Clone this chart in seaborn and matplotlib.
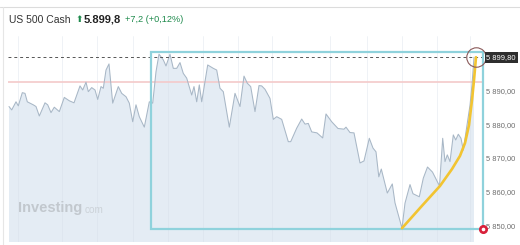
import numpy as np
import pandas as pd
import matplotlib
matplotlib.use("Agg")
import matplotlib.pyplot as plt
import seaborn as sns
from matplotlib.patches import Rectangle
from matplotlib.lines import Line2D

# ---------------- data ----------------
t = [9, 11.7, 16, 18.3, 22.3, 25, 27.3, 33.3, 36, 39.3, 45, 47.7, 51, 54.3, 59.3,
     64.3, 69.3, 74, 80, 82.7, 86, 88.3, 91.7, 95, 97.7, 101, 103.3, 106, 109, 112.7,
     118.3, 121.7, 126, 129.3, 132.7, 136, 139.3, 144.3, 149.3, 152.7, 156, 159, 163.3,
     166, 170, 173.3, 176.7, 180, 183.3, 186.7, 191.7, 194, 196.7, 199.3, 201.7, 207.7,
     213.3, 216.7, 220, 223.3, 229.3, 235, 240, 244, 247.3, 250.7, 255, 259, 261.7, 265,
     270, 273.3, 276.7, 281.7, 288.3, 290.7, 296.7, 301.7, 305, 308.3, 311.7, 317, 322.7,
     326, 331.7, 338, 344, 346, 350, 354, 360, 364, 369.3, 373, 376, 378.8, 381.3, 387.3,
     392.3, 395, 402, 405, 410, 413, 419.3, 423.3, 427.5, 432.5, 439.5, 442.7, 445, 447.3,
     450, 453.3, 455.7, 458.3, 461, 463.3, 467, 470, 472, 474]
price = [5885.2, 5884.2, 5886.6, 5885.4, 5889.3, 5889.1, 5886.6, 5885.7, 5885.2, 5882.4,
         5886.3, 5885.7, 5883.4, 5885.0, 5883.7, 5887.9, 5886.9, 5886.3, 5891.3, 5890.1,
         5892.4, 5889.6, 5890.8, 5890.1, 5887.3, 5891.1, 5890.6, 5896.0, 5897.8, 5886.2,
         5891.1, 5889.1, 5888.1, 5886.2, 5880.7, 5885.7, 5882.2, 5879.1, 5886.6, 5886.2,
         5895.5, 5900.7, 5899.0, 5897.2, 5900.7, 5896.5, 5896.5, 5898.2, 5895.0, 5893.6,
         5888.6, 5891.1, 5886.6, 5891.6, 5886.6, 5897.5, 5896.5, 5896.0, 5890.6, 5889.6,
         5879.1, 5889.1, 5885.2, 5894.2, 5892.1, 5891.1, 5883.7, 5891.4, 5891.3, 5890.3,
         5887.6, 5881.4, 5882.2, 5881.4, 5874.8, 5874.8, 5878.8, 5881.5, 5880.0, 5880.2,
         5877.7, 5877.4, 5875.9, 5883.0, 5880.7, 5878.7, 5878.5, 5879.1, 5877.5, 5877.4,
         5868.5, 5869.1, 5875.8, 5872.9, 5871.8, 5864.4, 5866.7, 5859.6, 5862.3, 5856.7,
         5849.2, 5856.6, 5862.1, 5859.4, 5858.5, 5864.0, 5867.3, 5865.8, 5861.7, 5875.8,
         5868.9, 5870.9, 5868.9, 5876.8, 5875.3, 5877.0, 5875.8, 5872.3, 5879.7, 5885.6,
         5891.6, 5899.8]

last_price = 5899.8
prev_close = 5892.6
y_ticks = [5850, 5860, 5870, 5880, 5890]
y_tick_labels = ["5 850,00", "5 860,00", "5 870,00", "5 880,00", "5 890,00"]
last_label = "5 899,80"

# hand-drawn yellow trend annotation
yellow_t = [402, 421, 440, 452, 460, 465, 469, 472, 474, 476]
yellow_v = [5849.2, 5855.5, 5861.7, 5866.7, 5870.6, 5874.4, 5879.7, 5887.1, 5893.0, 5899.8]

# highlight rectangle (time range and price range)
rect_t = [150.5, 483]
rect_v = [5848.9, 5901.2]
marker_t = 476          # circled last point
red_dot_t = 483
red_dot_v = 5848.9

grid_t = [18, 62, 97, 133, 168, 203, 238, 272, 330, 367, 402, 437, 470]

title = "US 500 Cash"
title_arrow = "⬆"
title_price = "5.899,8"
title_change = "+7,2 (+0,12%)"
watermark = "Investing"
watermark2 = "com"

# ---------------- figure ----------------
sns.set_theme(style="white")
plt.rcParams['font.family'] = ['Liberation Sans', 'DejaVu Sans']

W, H = 520, 245
fig = plt.figure(figsize=(W / 100, H / 100), dpi=100)
fig.patch.set_facecolor("white")

ax = fig.add_axes([8 / W, 3.3 / H, 475 / W, 205.7 / H])
ax.set_facecolor("white")
ax.set_xlim(8, 483)
ax.set_ylim(5845.2, 5906.07)

df = pd.DataFrame({"t": t, "price": price})
ax.fill_between(df["t"], df["price"], 5800, color="#e4ecf4", lw=0, zorder=1)
for g in grid_t:
    ax.axvline(g, color="#d3dce6", lw=0.5, alpha=0.5, zorder=2)
sns.lineplot(data=df, x="t", y="price", ax=ax, color="#a8b7c6", lw=0.75, zorder=3)

ax.axhline(prev_close, color="#f4caca", lw=1.2, zorder=2)
ax.axhline(last_price, color="#555555", lw=0.7, ls=(0, (3, 3)), zorder=4)

ax.add_patch(Rectangle((rect_t[0], rect_v[0]), rect_t[1] - rect_t[0], rect_v[1] - rect_v[0],
                       fill=False, edgecolor="#8fd2dc", lw=1.6, zorder=5, clip_on=False))

sns.lineplot(x=yellow_t, y=yellow_v, ax=ax, color="#f2c431", lw=1.9, sort=False, zorder=6)

ax.plot([marker_t], [last_price], marker="o", ms=14, mfc="none", mec="#8a5a5a", mew=0.8,
        zorder=7, clip_on=False)
ax.plot([red_dot_t], [red_dot_v], marker="o", ms=5.5, mfc="#d8203a", mec="#d8203a",
        zorder=8, clip_on=False)
ax.plot([red_dot_t], [red_dot_v], marker="o", ms=1.6, mfc="white", mec="white",
        zorder=9, clip_on=False)

for s in ax.spines.values():
    s.set_visible(False)
ax.set_xticks([])
ax.yaxis.tick_right()
ax.set_yticks(y_ticks)
ax.set_yticklabels(y_tick_labels)
ax.tick_params(axis="y", length=0, pad=2.5, labelsize=5.4, labelcolor="#6e6e6e")
ax.set_xlabel("")
ax.set_ylabel("")

ax.text(1 + 3.5 / 475, last_price, last_label, transform=ax.get_yaxis_transform(),
        ha="left", va="center", fontsize=5.4, color="white", zorder=10,
        bbox=dict(boxstyle="square,pad=0.25", facecolor="#2e2e2e", edgecolor="none"))

# header
def fx(px):
    return px / W

def fy(py):
    return 1 - py / H

fig.add_artist(Line2D([0, 1], [fy(7.3), fy(7.3)], color="#dcdcdc", lw=0.8))
fig.add_artist(Line2D([fx(2.7), fx(2.7)], [0, fy(7.3)], color="#e6e6e6", lw=0.8))
fig.text(fx(9), fy(20), title, fontsize=7.5, color="#333333", va="center", ha="left")
fig.text(fx(75), fy(20), title_arrow, fontsize=6.5, color="#1e8a4c", va="center", ha="left",
         family=["DejaVu Sans"])
fig.text(fx(83.5), fy(20), title_price, fontsize=8, color="#222222", weight="bold",
         va="center", ha="left")
fig.text(fx(125), fy(20), title_change, fontsize=6.6, color="#1e8a4c", va="center", ha="left")

# watermark
fig.text(fx(18), fy(208), watermark, fontsize=10.5, color="#c2c8ce", weight="bold",
         va="center", ha="left")
fig.text(fx(85), fy(209.5), watermark2, fontsize=7.2, color="#ccd2d8", va="center", ha="left")

fig.savefig("out.png", dpi=100, facecolor="white")
